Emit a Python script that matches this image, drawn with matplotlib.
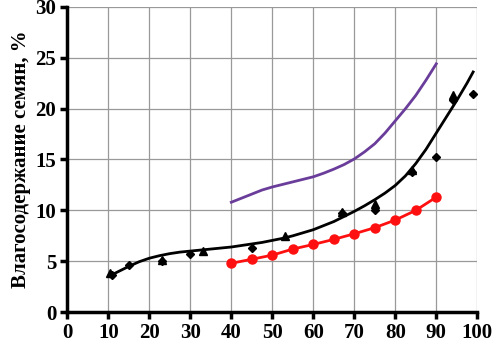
import matplotlib.pyplot as plt

# влагосодержание семян
# точки (ромбы)
x_d = [11, 15, 23, 30, 45, 67, 75, 84, 90, 94, 99]
y_d = [3.6, 4.6, 5.0, 5.7, 6.3, 9.7, 10.0, 13.8, 15.2, 20.8, 21.4]
# точки (треугольники)
x_t = [10.5, 23, 33, 53, 67, 75, 84, 94]
y_t = [3.8, 5.1, 6.05, 7.5, 9.8, 10.65, 14.0, 21.3]

# линия тренда (черная)
x_fit = [11, 12.5, 15, 17.5, 20, 22.5, 25, 27.5, 30, 32.5, 35, 37.5, 40, 42.5, 45,
         47.5, 50, 52.5, 55, 57.5, 60, 62.5, 65, 67.5, 70, 72.5, 75, 77.5, 80,
         82.5, 85, 87.5, 90, 92.5, 95, 97.5, 99]
y_fit = [3.7, 4.0, 4.5, 4.95, 5.3, 5.55, 5.75, 5.9, 6.0, 6.1, 6.2, 6.3, 6.4, 6.55, 6.7,
         6.85, 7.05, 7.25, 7.5, 7.8, 8.1, 8.5, 8.9, 9.4, 9.9, 10.45, 11.05, 11.7, 12.45,
         13.4, 14.6, 16.0, 17.6, 19.2, 20.8, 22.5, 23.6]

# красная линия
x_red = [40, 45, 50, 55, 60, 65, 70, 75, 80, 85, 90]
y_red = [4.8, 5.2, 5.6, 6.2, 6.65, 7.15, 7.7, 8.3, 9.05, 10.0, 11.3]

# фиолетовая линия
x_pur = [40, 42.5, 45, 47.5, 50, 52.5, 55, 57.5, 60, 62.5, 65, 67.5, 70, 72.5, 75,
         77.5, 80, 82.5, 85, 87.5, 90]
y_pur = [10.8, 11.2, 11.6, 12.0, 12.3, 12.55, 12.8, 13.05, 13.3, 13.65, 14.05, 14.5,
         15.05, 15.75, 16.55, 17.6, 18.8, 20.0, 21.3, 22.8, 24.4]

plt.rcParams['font.family'] = ['Liberation Serif', 'DejaVu Serif']

fig = plt.figure(figsize=(4.92, 3.43), dpi=100)
ax = fig.add_axes([0.137, 0.09, 0.833, 0.89])

ax.plot(x_pur, y_pur, color='#6a3d9a', lw=2)
ax.plot(x_fit, y_fit, color='black', lw=2)
ax.plot(x_red, y_red, 'o-', color='#ff1010', lw=2, ms=6.5)
ax.plot(x_d, y_d, 'D', color='black', ms=4.5, ls='none')
ax.plot(x_t, y_t, '^', color='black', ms=6, ls='none')

ax.set_xlim(0, 100)
ax.set_ylim(0, 30)
ax.set_xticks(range(0, 101, 10))
ax.set_yticks(range(0, 31, 5))
ax.grid(True, color='#999999', lw=0.9)
ax.set_axisbelow(True)

for s in ['top', 'right']:
    ax.spines[s].set_visible(False)
for s in ['left', 'bottom']:
    ax.spines[s].set_linewidth(2.5)

ax.tick_params(width=2.5, length=5, labelsize=15, direction='out', pad=3)
for lab in ax.get_xticklabels() + ax.get_yticklabels():
    lab.set_fontweight('bold')

ax.set_ylabel('Влагосодержание семян, %', fontsize=15, fontweight='bold', labelpad=3)

fig.savefig('out.png', dpi=100)
